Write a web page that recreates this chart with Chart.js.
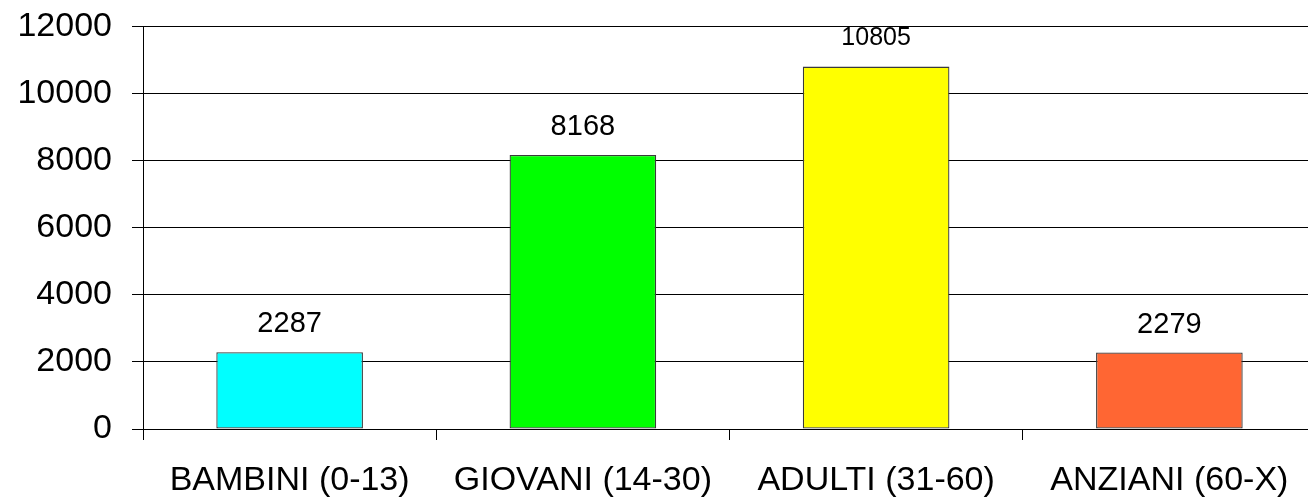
<!DOCTYPE html>
<html>
<head>
<meta charset="utf-8">
<script src="https://cdn.jsdelivr.net/npm/chart.js@4"></script>
<style>
html,body{margin:0;padding:0;background:#fff;overflow:hidden;}
#wrap{width:1308px;height:503px;position:relative;overflow:hidden;}
</style>
</head>
<body>
<div id="wrap"><canvas id="c" width="1316" height="503"></canvas></div>
<script>
const categories = ["BAMBINI (0-13)", "GIOVANI (14-30)", "ADULTI (31-60)", "ANZIANI (60-X)"];
const values = [2287, 8168, 10805, 2279];
const barColors = ["#00FFFF", "#00FF00", "#FFFF00", "#FF6633"];
const yTicks = [0, 2000, 4000, 6000, 8000, 10000, 12000];

const valueLabels = {
  id: 'valueLabels',
  afterDatasetsDraw(chart, args, opts) {
    const ctx = chart.ctx;
    const meta = chart.getDatasetMeta(0);
    ctx.save();
    ctx.fillStyle = '#000';
    ctx.textAlign = 'center';
    ctx.textBaseline = 'middle';
    meta.data.forEach((bar, i) => {
      const size = opts.sizes[i];
      ctx.font = size + 'px "Liberation Sans", Arial, sans-serif';
      ctx.fillText(String(values[i]), bar.x, bar.y - opts.offset);
    });
    ctx.restore();
  }
};

new Chart(document.getElementById('c'), {
  type: 'bar',
  data: {
    labels: categories,
    datasets: [{
      data: values,
      backgroundColor: barColors,
      borderColor: '#3a3a3a',
      borderWidth: 1.3,
      borderSkipped: false,
      barPercentage: 0.5,
      categoryPercentage: 1.0
    }]
  },
  options: {
    responsive: false,
    animation: false,
    devicePixelRatio: 1,
    layout: { padding: { top: 26.5, right: 0, left: 0, bottom: 0 } },
    plugins: {
      legend: { display: false },
      tooltip: { enabled: false },
      valueLabels: { sizes: [29, 29, 25, 29], offset: 28 }
    },
    scales: {
      x: {
        offset: true,
        afterFit(scale) { scale.height = 74; scale.paddingLeft = 0; scale.paddingRight = 0; },
        grid: {
          offset: true,
          drawOnChartArea: false,
          drawTicks: true,
          tickLength: 11,
          color: '#000',
          lineWidth: 1
        },
        border: { display: true, color: '#000', width: 1 },
        ticks: {
          color: '#000',
          padding: 20,
          maxRotation: 0,
          autoSkip: false,
          font: { family: '"Liberation Sans", Arial, sans-serif', size: 34 }
        }
      },
      y: {
        min: 0,
        max: 12000,
        afterFit(scale) { scale.width = 143; scale.paddingTop = 0; scale.paddingBottom = 0; },
        afterBuildTicks(scale) { scale.ticks = yTicks.map(v => ({ value: v })); },
        grid: {
          color: '#000',
          lineWidth: 1,
          drawTicks: true,
          tickLength: 11
        },
        border: { display: true, color: '#000', width: 1 },
        ticks: {
          color: '#000',
          padding: 20,
          callback: (v) => String(v),
          font: { family: '"Liberation Sans", Arial, sans-serif', size: 34 }
        }
      }
    }
  },
  plugins: [valueLabels]
});
</script>
</body>
</html>
